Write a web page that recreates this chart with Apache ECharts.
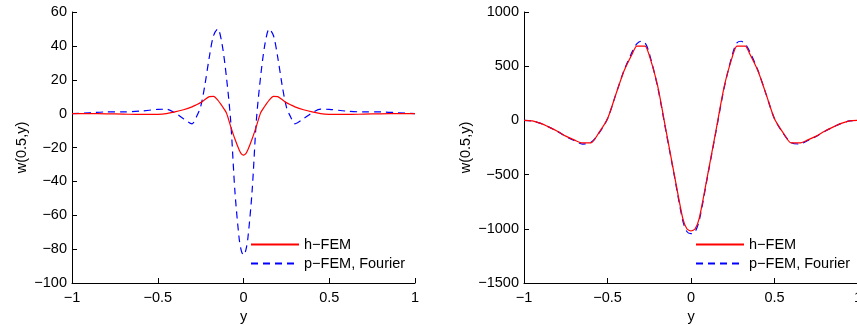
<!DOCTYPE html>
<html>
<head>
<meta charset="utf-8">
<script src="https://cdn.jsdelivr.net/npm/echarts@6/dist/echarts.min.js"></script>
<style>html,body{margin:0;padding:0;background:#fff}#c{width:857px;height:325px}</style>
</head>
<body>
<div id="c"></div>
<script>
// ---- Left panel data ----
var xLeft = [-1,-0.9,-0.8,-0.7,-0.6,-0.5,-0.45,-0.4,-0.35,-0.3,-0.275,-0.25,-0.225,-0.2,-0.175,-0.15,-0.125,-0.1,-0.075,-0.05,-0.025,-0.0125,
  0,
  0.0125,0.025,0.05,0.075,0.1,0.125,0.15,0.175,0.2,0.225,0.25,0.275,0.3,0.35,0.4,0.45,0.5,0.6,0.7,0.8,0.9,1];
var hFemLeft = [0,0,-0.1,-0.3,-0.5,-0.4,0,1,2.3,4,5.2,6.5,8.3,10,10.2,8,4.5,0.5,-7.5,-15,-21.5,-23.8,
  -24.5,
  -23.8,-21.5,-15,-7.5,0.5,4.5,8,10.2,10,8.3,6.5,5.2,4,2.3,1,0,-0.4,-0.5,-0.3,-0.1,0,0];
var pFemLeft = [0,0.5,1,1,1.5,2.5,2.6,0.5,-3,-6,-2,4,17,33,46,50,41,22,-4,-46,-74,-81,
  -83.5,
  -81,-74,-46,-4,22,41,50,46,33,17,4,-2,-6,-3,0.5,2.6,2.5,1.5,1,1,0.5,0];

// ---- Right panel data ----
var xRight = [-1,-0.95,-0.9,-0.85,-0.8,-0.75,-0.7,-0.65,-0.6,-0.55,-0.5,-0.45,-0.4,-0.35,-0.325,-0.3,-0.275,-0.25,-0.2,-0.15,-0.1,-0.05,-0.025,
  0,
  0.025,0.05,0.1,0.15,0.2,0.25,0.275,0.3,0.325,0.35,0.4,0.45,0.5,0.55,0.6,0.65,0.7,0.75,0.8,0.85,0.9,0.95,1];
var hFemRight = [0,-5,-28,-62,-100,-145,-180,-208,-208,-110,15,240,460,620,686,686,686,600,320,-90,-500,-900,-1000,
  -1020,
  -1000,-900,-500,-90,320,600,686,686,686,620,460,240,15,-110,-208,-208,-180,-145,-100,-62,-28,-5,0];
var pFemRight = [0,-5,-28,-62,-102,-148,-185,-218,-205,-115,15,240,465,640,705,730,715,620,310,-100,-510,-920,-1025,
  -1045,
  -1025,-920,-510,-100,310,620,715,730,705,640,465,240,15,-115,-205,-218,-185,-148,-102,-62,-28,-5,0];

var xTicks = {min:-1, max:1, interval:0.5};
var yTicksLeft = {min:-100, max:60, interval:20};
var yTicksRight = {min:-1500, max:1000, interval:500};
var names = ['h\u2212FEM', 'p\u2212FEM, Fourier'];
var xName = 'y', yName = 'w(0.5,y)';

function pairs(xs, ys){ return xs.map(function(x,i){ return [x, ys[i]]; }); }
function fmt(v){ return String(v).replace('-', '\u2212'); }

var FONT = 'Liberation Sans';
var txt = {color:'#000', fontFamily:FONT, fontSize:14.5};

function xAxis(gi){
  return {type:'value', gridIndex:gi, min:xTicks.min, max:xTicks.max, interval:xTicks.interval,
    name:xName, nameLocation:'middle', nameGap:22, nameTextStyle:txt,
    axisLine:{show:true, onZero:false, lineStyle:{color:'#000', width:1}},
    axisTick:{show:true, inside:true, length:5, lineStyle:{color:'#000'}},
    axisLabel:Object.assign({formatter:fmt, margin:7, showMaxLabel:true, showMinLabel:true, hideOverlap:false}, txt),
    splitLine:{show:false}};
}
function yAxis(gi, t, gap){
  return {type:'value', gridIndex:gi, min:t.min, max:t.max, interval:t.interval,
    name:yName, nameLocation:'middle', nameGap:gap, nameRotate:90, nameTextStyle:txt,
    axisLine:{show:true, onZero:false, lineStyle:{color:'#000', width:1}},
    axisTick:{show:true, inside:true, length:5, lineStyle:{color:'#000'}},
    axisLabel:Object.assign({formatter:fmt, margin:5}, txt),
    splitLine:{show:false}};
}
function redS(gi, xs, ys){
  return {name:names[0], type:'line', xAxisIndex:gi, yAxisIndex:gi, data:pairs(xs, ys),
    symbol:'none', smooth:0.25, lineStyle:{color:'#ff0000', width:1.2}, itemStyle:{color:'#ff0000'}, z:3};
}
function blueS(gi, xs, ys){
  return {name:names[1], type:'line', xAxisIndex:gi, yAxisIndex:gi, data:pairs(xs, ys),
    symbol:'none', smooth:0.3, lineStyle:{color:'#0000ff', width:1.2, type:[7,5]}, itemStyle:{color:'#0000ff'}, z:2};
}
function legend(left){
  return {orient:'vertical', left:left, top:237, padding:0, itemWidth:48, itemHeight:14, itemGap:4, itemTextGap:6,
    data:names, textStyle:txt, selectedMode:false, itemStyle:{opacity:0}};
}

var chart = echarts.init(document.getElementById('c'), null, {renderer:'canvas'});
chart.setOption({
  animation:false,
  backgroundColor:'#fff',
  grid:[{left:72, top:12, width:343, height:271, containLabel:false, outerBoundsMode:'none'},
        {left:524, top:12, width:334, height:271, containLabel:false, outerBoundsMode:'none'}],
  xAxis:[xAxis(0), xAxis(1)],
  yAxis:[yAxis(0, yTicksLeft, 43), yAxis(1, yTicksRight, 51)],
  legend:[legend(250), legend(695)],
  series:[redS(0, xLeft, hFemLeft), blueS(0, xLeft, pFemLeft),
          redS(1, xRight, hFemRight), blueS(1, xRight, pFemRight)]
});
</script>
</body>
</html>
